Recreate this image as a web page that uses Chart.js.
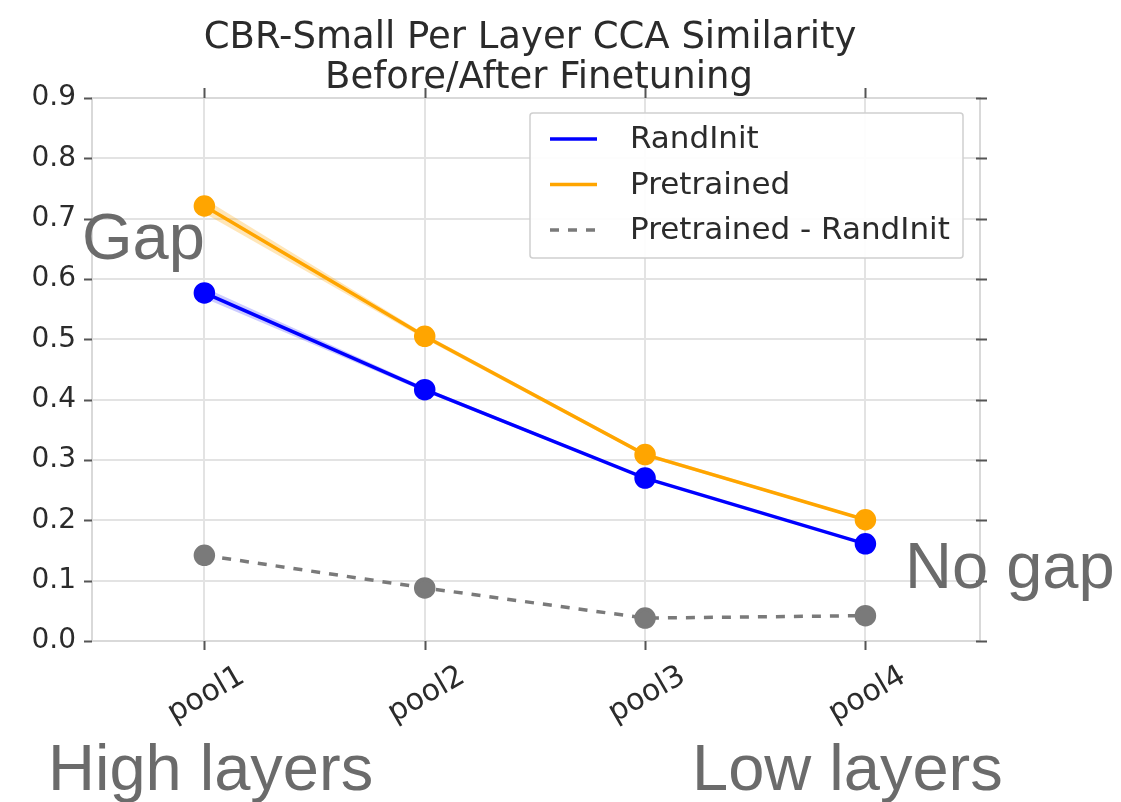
<!DOCTYPE html>
<html>
<head>
<meta charset="utf-8">
<title>CBR-Small Per Layer CCA Similarity</title>
<script src="https://cdn.jsdelivr.net/npm/chart.js@4.4.1/dist/chart.umd.min.js"></script>
<style>
  html, body { margin: 0; padding: 0; background: #fff; }
  #wrap { width: 1121px; height: 802px; position: relative; }
</style>
</head>
<body>
<div id="wrap"><canvas id="ccaChart"></canvas></div>
<script>
// layers, left to right
const layers = ['pool1', 'pool2', 'pool3', 'pool4'];

// mean CCA similarity per layer
const randInit = [0.577, 0.4165, 0.270, 0.161];
const pretrained = [0.721, 0.505, 0.309, 0.201];
const gap = [0.142, 0.088, 0.038, 0.042];

// shaded spread around the means
const randInitLow = [0.568, 0.413, 0.268, 0.159];
const randInitHigh = [0.586, 0.420, 0.272, 0.163];
const pretrainedLow = [0.709, 0.501, 0.306, 0.199];
const pretrainedHigh = [0.733, 0.509, 0.312, 0.203];

const yTicks = [0, 0.1, 0.2, 0.3, 0.4, 0.5, 0.6, 0.7, 0.8, 0.9];

const titleLines = ['CBR-Small Per Layer CCA Similarity', 'Before/After Finetuning'];

const BLUE = '#0000ff';
const ORANGE = '#ffa500';
const GRAY = '#7a7a7a';

const pts = arr => arr.map((v, i) => ({ x: i, y: v }));

function band(low, high, color) {
  return [
    { data: pts(low), borderWidth: 0, pointRadius: 0, fill: false, borderColor: 'transparent', order: 5 },
    { data: pts(high), borderWidth: 0, pointRadius: 0, fill: '-1', borderColor: 'transparent', backgroundColor: color, order: 5 }
  ];
}

function series(label, values, color, dash) {
  return {
    label,
    data: pts(values),
    borderColor: color,
    backgroundColor: color,
    pointBackgroundColor: color,
    pointBorderColor: color,
    pointRadius: 9,
    pointHoverRadius: 9,
    borderWidth: 3.5,
    borderDash: dash || [],
    fill: false,
    tension: 0,
    order: 1
  };
}

// frame, tick marks, x labels, legend, title and side notes
const decorations = {
  id: 'decorations',
  beforeDatasetsDraw(chart) {
    const { ctx, chartArea: a } = chart;
    ctx.save();
    ctx.strokeStyle = '#d9d9d9';
    ctx.lineWidth = 2;
    ctx.strokeRect(a.left, a.top, a.right - a.left, a.bottom - a.top);
    ctx.restore();
  },
  afterDraw(chart) {
    const { ctx, chartArea: a, scales } = chart;
    const xs = scales.x, ys = scales.y;
    ctx.save();

    // tick marks
    ctx.strokeStyle = '#555';
    ctx.lineWidth = 2;
    ctx.beginPath();
    yTicks.forEach(v => {
      const y = Math.round(ys.getPixelForValue(v)) + 0.5;
      ctx.moveTo(a.left - 8, y); ctx.lineTo(a.left, y);
      ctx.moveTo(a.right - 4, y); ctx.lineTo(a.right + 7, y);
    });
    layers.forEach((l, i) => {
      const x = Math.round(xs.getPixelForValue(i)) + 0.5;
      ctx.moveTo(x, a.bottom); ctx.lineTo(x, a.bottom + 9);
      ctx.moveTo(x, a.top - 10); ctx.lineTo(x, a.top);
    });
    ctx.stroke();

    // rotated category labels
    ctx.fillStyle = '#2b2b2b';
    ctx.font = '30px "DejaVu Sans"';
    ctx.textAlign = 'center';
    ctx.textBaseline = 'middle';
    layers.forEach((l, i) => {
      ctx.save();
      ctx.translate(xs.getPixelForValue(i) + 2, a.bottom + 54);
      ctx.rotate(-Math.PI / 6);
      ctx.fillText(l, 0, 0);
      ctx.restore();
    });

    // legend
    const lx = 530, ly = 113, lw = 433, lh = 145;
    ctx.fillStyle = 'rgba(255,255,255,0.92)';
    ctx.strokeStyle = '#cfcfcf';
    ctx.lineWidth = 1.5;
    ctx.beginPath();
    ctx.roundRect(lx, ly, lw, lh, 3);
    ctx.fill();
    ctx.stroke();
    const entries = [
      { text: 'RandInit', color: BLUE, dash: [] },
      { text: 'Pretrained', color: ORANGE, dash: [] },
      { text: 'Pretrained - RandInit', color: GRAY, dash: [9, 9] }
    ];
    ctx.font = '31px "DejaVu Sans"';
    ctx.textAlign = 'left';
    ctx.textBaseline = 'middle';
    entries.forEach((e, i) => {
      const y = ly + 26 + i * 45.5;
      ctx.strokeStyle = e.color;
      ctx.lineWidth = 3.5;
      ctx.setLineDash(e.dash);
      ctx.beginPath();
      ctx.moveTo(lx + 20, y); ctx.lineTo(lx + 67, y);
      ctx.stroke();
      ctx.setLineDash([]);
      ctx.fillStyle = '#2b2b2b';
      ctx.fillText(e.text, lx + 100, y + 1);
    });

    // title
    ctx.font = '37px "DejaVu Sans"';
    ctx.textAlign = 'center';
    ctx.textBaseline = 'alphabetic';
    ctx.fillStyle = '#2b2b2b';
    ctx.fillText(titleLines[0], 530, 48);
    ctx.fillText(titleLines[1], 539, 88);

    // side notes
    ctx.font = '65px "Liberation Sans"';
    ctx.textAlign = 'left';
    ctx.fillStyle = '#6b6b6b';
    ctx.fillText('Gap', 82, 259);
    ctx.fillText('No gap', 905, 588);
    ctx.fillText('High layers', 48, 790);
    ctx.fillText('Low layers', 692, 790);

    ctx.restore();
  }
};

new Chart(document.getElementById('ccaChart'), {
  type: 'line',
  data: {
    datasets: [
      ...band(pretrainedLow, pretrainedHigh, 'rgba(255,165,0,0.28)'),
      ...band(randInitLow, randInitHigh, 'rgba(0,0,255,0.2)'),
      series('RandInit', randInit, BLUE),
      series('Pretrained', pretrained, ORANGE),
      series('Pretrained - RandInit', gap, GRAY, [9, 9])
    ]
  },
  options: {
    responsive: true,
    maintainAspectRatio: false,
    animation: false,
    events: [],
    layout: { padding: { top: 98, right: 141, left: 0, bottom: 0 } },
    plugins: {
      legend: { display: false },
      title: { display: false },
      tooltip: { enabled: false }
    },
    scales: {
      x: {
        type: 'linear',
        min: -0.51,
        max: 3.52,
        afterBuildTicks: s => { s.ticks = layers.map((l, i) => ({ value: i })); },
        afterFit: s => { s.height = 161; },
        ticks: { display: false },
        grid: { color: '#e3e3e3', lineWidth: 2, drawTicks: false },
        border: { color: '#d9d9d9', width: 2 }
      },
      y: {
        min: 0,
        max: 0.9,
        afterBuildTicks: s => { s.ticks = yTicks.map(v => ({ value: v })); },
        afterFit: s => { s.width = 92; },
        ticks: {
          padding: 16,
          color: '#2b2b2b',
          font: { family: 'DejaVu Sans', size: 28 },
          callback: v => v.toFixed(1)
        },
        grid: { color: '#e3e3e3', lineWidth: 2, drawTicks: false },
        border: { color: '#d9d9d9', width: 2 }
      }
    }
  },
  plugins: [decorations]
});
</script>
</body>
</html>
